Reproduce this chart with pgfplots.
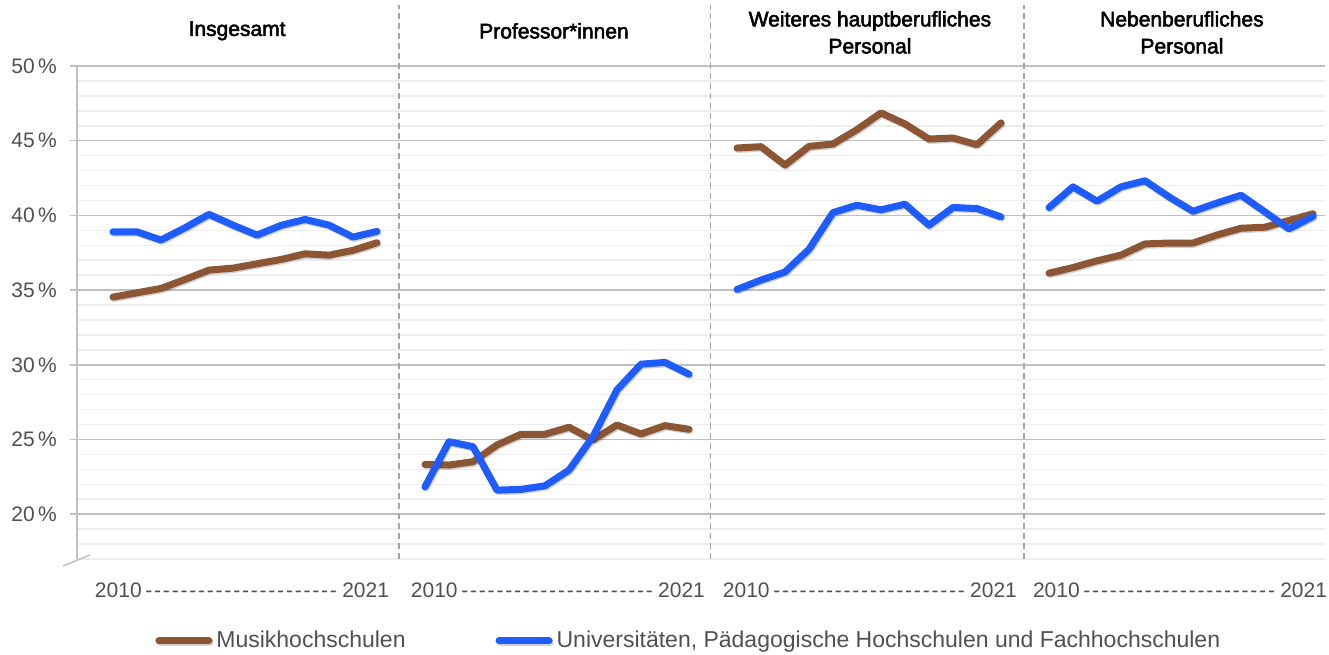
\documentclass[border=0pt]{standalone}
\usepackage{pgfplots}
\usepackage{pgfplotstable}
\pgfplotsset{compat=1.18}
\usepackage{fontspec}
\setmainfont{Liberation Sans}
\newfontfamily\titlefont[FakeBold=2.5]{Liberation Sans}
\definecolor{mbrown}{RGB}{140,85,52}
\definecolor{mblue}{RGB}{30,92,255}
\definecolor{gmaj}{RGB}{192,192,192}
\definecolor{gmin}{RGB}{238,238,238}
\definecolor{gsep}{RGB}{165,165,165}
\definecolor{gtext}{RGB}{80,80,80}

\pgfplotstableread{
x brown blue
0 34.53 38.90
1 34.82 38.90
2 35.11 38.35
3 35.71 39.17
4 36.34 40.07
5 36.47 39.35
6 36.76 38.68
7 37.05 39.33
8 37.43 39.73
9 37.34 39.35
10 37.66 38.55
11 38.17 38.93
12 nan nan
13 23.33 21.83
14 23.29 24.85
15 23.51 24.52
16 24.63 21.61
17 25.35 21.66
18 25.35 21.90
19 25.82 22.95
20 24.97 25.19
21 25.97 28.32
22 25.37 30.04
23 25.93 30.16
24 25.68 29.37
25 nan nan
26 44.51 35.04
27 44.60 35.67
28 43.37 36.21
29 44.62 37.73
30 44.78 40.19
31 45.74 40.68
32 46.86 40.37
33 46.12 40.75
34 45.11 39.34
35 45.18 40.53
36 44.73 40.46
37 46.19 39.90
38 nan nan
39 36.13 40.52
40 36.51 41.91
41 36.96 40.95
42 37.34 41.91
43 38.09 42.32
44 38.15 41.24
45 38.15 40.27
46 38.69 40.83
47 39.14 41.35
48 39.21 40.23
49 39.66 39.10
50 40.11 39.93
}\datatable

\begin{document}
\begin{tikzpicture}
\path[use as bounding box] (-38.5pt,-47.5pt) rectangle (626pt,279.5pt);
\begin{axis}[
  at={(0,0)}, anchor=south west,
  scale only axis,
  width=624pt, height=246.5pt,
  xmin=-1.5, xmax=50.5,
  ymin=17, ymax=50,
  clip=false,
  unbounded coords=jump,
  xtick=\empty,
  ytick={20,25,30,35,40,45,50},
  yticklabels={20\,\%,25\,\%,30\,\%,35\,\%,40\,\%,45\,\%,50\,\%},
  minor ytick={17,18,19,21,22,23,24,26,27,28,29,31,32,33,34,36,37,38,39,41,42,43,44,46,47,48,49},
  ymajorgrids, yminorgrids,
  major grid style={draw=gmaj, line width=0.75pt},
  minor grid style={draw=gmin, line width=0.75pt},
  axis x line=none,
  axis y line*=left,
  y axis line style={draw=gmaj, line width=0.75pt, -},
  tick align=outside,
  major tick length=3.5pt,
  minor tick length=0pt,
  ytick style={draw=gmaj, line width=0.75pt},
  yticklabel style={font=\fontsize{10.5}{12}\selectfont, text=gtext, xshift=-3pt},
  /pgf/number format/assume math mode=true,
  legend columns=2,
  legend cell align=left,
  legend style={at={(axis description cs:0.0625,-0.166)}, anchor=west, draw=none, fill=none,
    font=\fontsize{11.5}{14}\selectfont, text=gtext, inner sep=0pt,
    /tikz/every even column/.append style={column sep=43pt}},
  legend image code/.code={\draw[#1, line width=3.5pt, line cap=round] (0pt,0pt) -- (25pt,0pt);},
]
% separators
\foreach \s in {11.92,24.9,37.96} {
  \edef\temp{\noexpand\draw[gsep, line width=0.75pt, dash pattern=on 3pt off 2pt] (axis cs:\s,17) -- (axis cs:\s,54.1);}
  \temp
}
\addplot[mbrown, line width=3.5pt, line join=round, line cap=round,
  preaction={draw=black, draw opacity=0.18, line width=3.5pt, transform canvas={xshift=0.5pt,yshift=-0.7pt}}] table[x=x, y=brown] {\datatable};
\addlegendentry{Musikhochschulen}
\addplot[mblue, line width=3.5pt, line join=round, line cap=round,
  preaction={draw=black, draw opacity=0.18, line width=3.5pt, transform canvas={xshift=0.5pt,yshift=-0.7pt}}] table[x=x, y=blue] {\datatable};
\addlegendentry{Universitäten, Pädagogische Hochschulen und Fachhochschulen}
% titles
\node[font=\fontsize{10.5}{13.5}\titlefont, align=center] at (axis cs:5.17,52.35) {Insgesamt};
\node[font=\fontsize{10.5}{13.5}\titlefont, align=center] at (axis cs:18.375,52.35) {Professor*innen};
\node[font=\fontsize{10.5}{13.5}\titlefont, align=center] at (axis cs:31.54,52.25) {Weiteres hauptberufliches\\Personal};
\node[font=\fontsize{10.5}{13.5}\titlefont, align=center] at (axis cs:44.54,52.25) {Nebenberufliches\\Personal};
% x labels
\foreach \c in {5.375,18.54,31.54,44.46} {
  \edef\temp{\noexpand\node[font=\noexpand\fontsize{10.5}{12}\noexpand\selectfont, text=gtext, inner sep=0pt] at (axis cs:\c,14.9) {\noexpand\hbox to 147pt{2010\noexpand\,\noexpand\xleaders\noexpand\hbox{-\noexpand\kern0.8pt}\noexpand\hfill\noexpand\,2021}};}
  \temp
}
% axis break mark
\draw[gmaj, line width=0.75pt] (axis cs:-2.08,16.53) -- (axis cs:-0.96,17.27);
\end{axis}
\end{tikzpicture}
\end{document}
